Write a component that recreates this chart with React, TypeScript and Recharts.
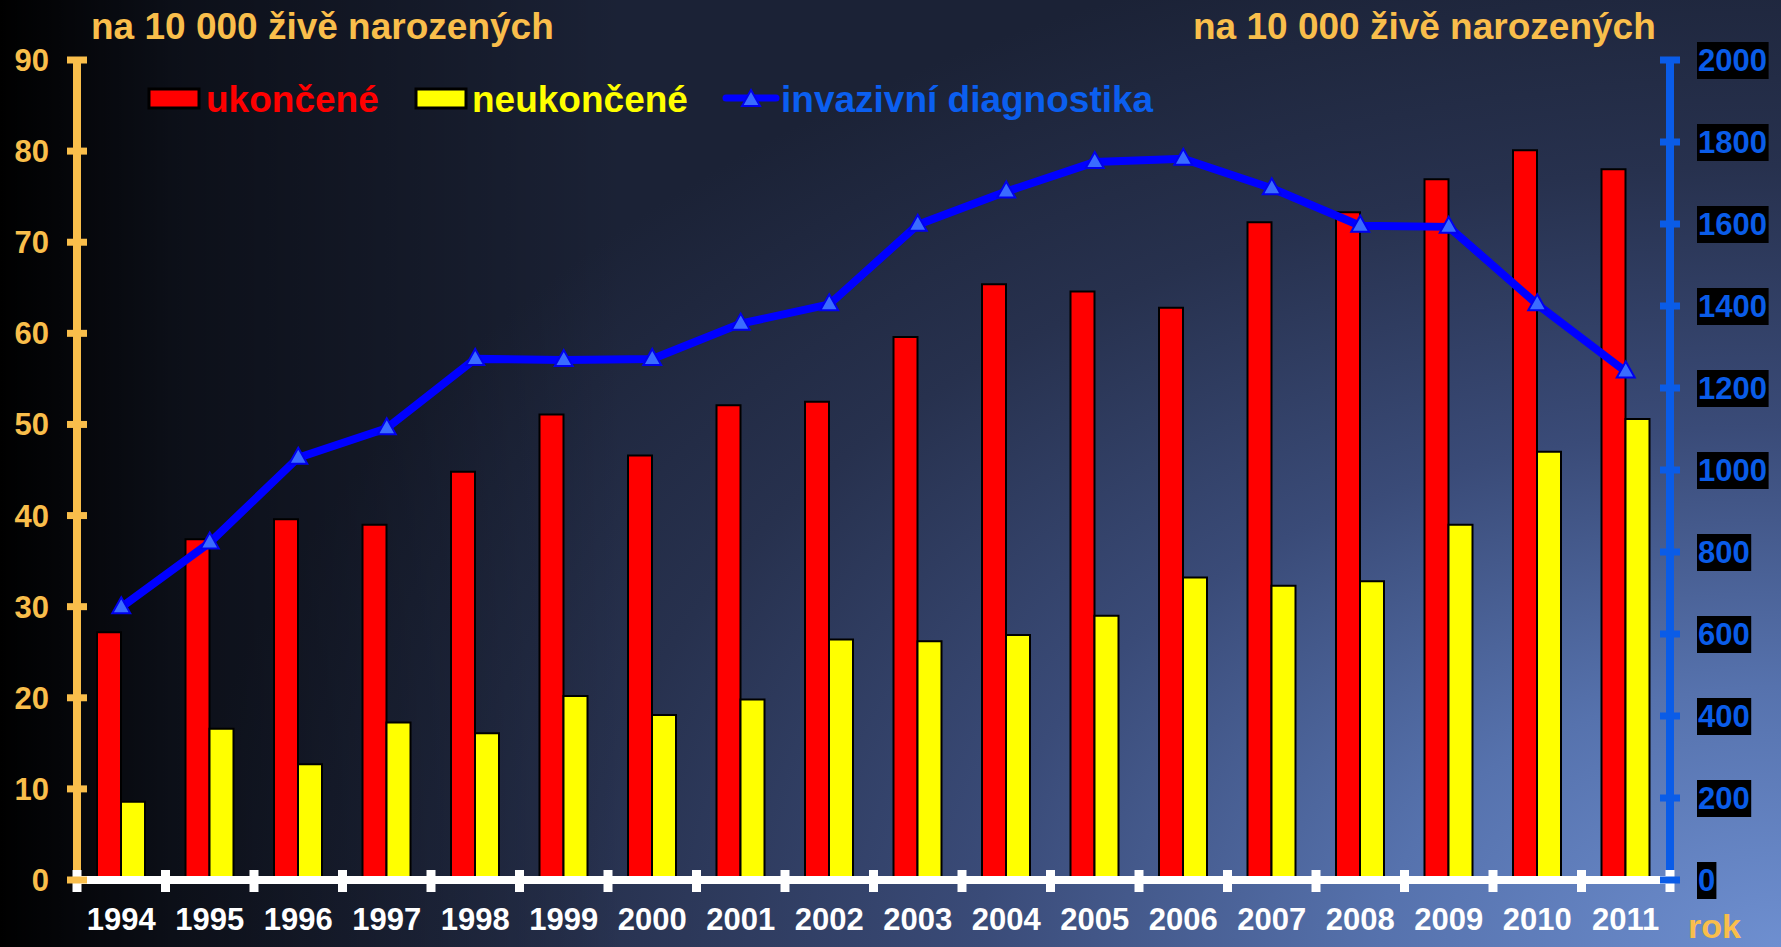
import { ComposedChart, Bar, Line, XAxis, YAxis, Legend } from 'recharts'

const years = ['1994', '1995', '1996', '1997', '1998', '1999', '2000', '2001', '2002', '2003', '2004', '2005', '2006', '2007', '2008', '2009', '2010', '2011']
const ukoncene = [27.2, 37.4, 39.6, 39.0, 44.8, 51.1, 46.6, 52.1, 52.5, 59.6, 65.4, 64.6, 62.8, 72.2, 73.3, 76.9, 80.1, 78.0]
const neukoncene = [8.6, 16.6, 12.7, 17.3, 16.1, 20.2, 18.1, 19.8, 26.4, 26.2, 26.9, 29.0, 33.2, 32.3, 32.8, 39.0, 47.0, 50.6]
const invazivni = [665, 823, 1030, 1102, 1271, 1268, 1271, 1357, 1404, 1598, 1679, 1751, 1759, 1687, 1596, 1593, 1404, 1240]
const leftTicks = [0, 10, 20, 30, 40, 50, 60, 70, 80, 90]
const rightTicks = [0, 200, 400, 600, 800, 1000, 1200, 1400, 1600, 1800, 2000]

const W = 1781
const H = 947
const LEFT_X = 77
const RIGHT_X = 1670
const BOTTOM_Y = 880
const BAND = (RIGHT_X - LEFT_X) / years.length

const ORANGE = '#f9be4b'
const BLUE_AXIS = '#0a5ce8'
const FONT = '"Liberation Sans", Arial, sans-serif'

const data = years.map((year, i) => ({
  year,
  ukoncene: ukoncene[i],
  neukoncene: neukoncene[i],
  invazivni: invazivni[i],
}))

const LeftTick = (props: any) => {
  const { y, payload } = props
  return (
    <g>
      <line x1={LEFT_X - 10} x2={LEFT_X + 10} y1={y} y2={y} stroke={ORANGE} strokeWidth={7} />
      <text x={49} y={y} dy={11} textAnchor="end" fill={ORANGE} fontSize={31} fontWeight="bold" fontFamily={FONT}>
        {payload.value}
      </text>
    </g>
  )
}

const RightTick = (props: any) => {
  const { y, payload } = props
  const label = String(payload.value)
  const w = label.length * 17.4 + 2
  return (
    <g>
      <line x1={RIGHT_X - 10} x2={RIGHT_X + 10} y1={y} y2={y} stroke={BLUE_AXIS} strokeWidth={7} />
      <rect x={1697} y={y - 18} width={w} height={37} fill="#000" />
      <text x={1698} y={y} dy={11} fill={BLUE_AXIS} fontSize={31} fontWeight="bold" fontFamily={FONT}>
        {label}
      </text>
    </g>
  )
}

const XTick = (props: any) => {
  const { x, payload, index } = props
  const half = BAND / 2
  return (
    <g>
      <line x1={x - half} x2={x - half} y1={870} y2={892} stroke="#fff" strokeWidth={9} />
      {index === years.length - 1 && (
        <line x1={x + half} x2={x + half} y1={870} y2={892} stroke="#fff" strokeWidth={9} />
      )}
      <text x={x} y={930} textAnchor="middle" fill="#fff" fontSize={31} fontWeight="bold" fontFamily={FONT}>
        {payload.value}
      </text>
    </g>
  )
}

const Triangle = (props: any) => {
  const { cx, cy } = props
  if (cx == null || cy == null) return null
  return (
    <path
      d={`M${cx},${cy - 10} L${cx + 9},${cy + 6} L${cx - 9},${cy + 6} Z`}
      fill="#3a6cff"
      stroke="#0000ee"
      strokeWidth={2}
    />
  )
}

const LegendContent = () => (
  <svg width={1040} height={50} style={{ fontFamily: FONT, fontWeight: 'bold' }}>
    <rect x={9} y={14} width={50} height={19} fill="#ff0000" stroke="#000" strokeWidth={3} />
    <text x={66} y={37} fill="#ff0000" fontSize={37}>ukončené</text>
    <rect x={276} y={14} width={50} height={19} fill="#ffff00" stroke="#000" strokeWidth={3} />
    <text x={332} y={37} fill="#ffff00" fontSize={37}>neukončené</text>
    <line x1={586} x2={636} y1={23} y2={23} stroke="#0000ff" strokeWidth={7} strokeLinecap="round" />
    <Triangle cx={611} cy={25} />
    <text x={641} y={37} fill="#0b5ff0" fontSize={37}>invazivní diagnostika</text>
  </svg>
)

const titleStyle = { fill: ORANGE, fontSize: 37, fontWeight: 'bold' as const, fontFamily: FONT }

export default function App() {
  return (
    <div
      style={{
        position: 'absolute',
        left: 0,
        top: 0,
        width: W,
        height: H,
        overflow: 'hidden',
        background:
          'linear-gradient(to right, rgba(0,0,0,1) 0%, rgba(0,0,0,0.55) 10%, rgba(0,0,0,0) 35%), ' +
          'radial-gradient(ellipse 90% 110% at 100% 100%, #6e8fd0 0%, #5672ad 25%, #3a4b78 50%, #27314e 75%, #1b2236 100%)',
      }}
    >
      <ComposedChart
        width={W}
        height={H}
        data={data}
        margin={{ top: 60, right: 0, bottom: 0, left: 0 }}
        barGap={0}
        style={{ fontFamily: FONT }}
      >
        <XAxis
          dataKey="year"
          height={H - BOTTOM_Y}
          interval={0}
          tickLine={false}
          axisLine={{ stroke: '#fff', strokeWidth: 8 }}
          tick={<XTick />}
          label={() => (
            <text x={1688} y={938} fill={ORANGE} fontSize={34} fontWeight="bold" fontFamily={FONT}>
              rok
            </text>
          )}
        />
        <YAxis
          yAxisId="left"
          orientation="left"
          width={LEFT_X}
          domain={[0, 90]}
          ticks={leftTicks}
          interval={0}
          tickLine={false}
          axisLine={{ stroke: ORANGE, strokeWidth: 8 }}
          tick={<LeftTick />}
          label={() => (
            <text x={91} y={39} {...titleStyle}>
              na 10 000 živě narozených
            </text>
          )}
        />
        <YAxis
          yAxisId="right"
          orientation="right"
          width={W - RIGHT_X}
          domain={[0, 2000]}
          ticks={rightTicks}
          interval={0}
          tickLine={false}
          axisLine={{ stroke: BLUE_AXIS, strokeWidth: 8 }}
          tick={<RightTick />}
          label={() => (
            <text x={1193} y={39} {...titleStyle}>
              na 10 000 živě narozených
            </text>
          )}
        />
        <Legend
          layout="horizontal"
          verticalAlign="middle"
          align="center"
          content={<LegendContent />}
          wrapperStyle={{ top: 75, left: 140, width: 1040, height: 50 }}
        />
        <Bar
          yAxisId="left"
          dataKey="ukoncene"
          name="ukončené"
          fill="#ff0000"
          stroke="#000"
          strokeWidth={2}
          barSize={24}
          isAnimationActive={false}
        />
        <Bar
          yAxisId="left"
          dataKey="neukoncene"
          name="neukončené"
          fill="#ffff00"
          stroke="#000"
          strokeWidth={2}
          barSize={24}
          isAnimationActive={false}
        />
        <Line
          yAxisId="right"
          dataKey="invazivni"
          name="invazivní diagnostika"
          type="linear"
          stroke="#0000ff"
          strokeWidth={8}
          dot={<Triangle />}
          activeDot={false}
          isAnimationActive={false}
        />
      </ComposedChart>
    </div>
  )
}
